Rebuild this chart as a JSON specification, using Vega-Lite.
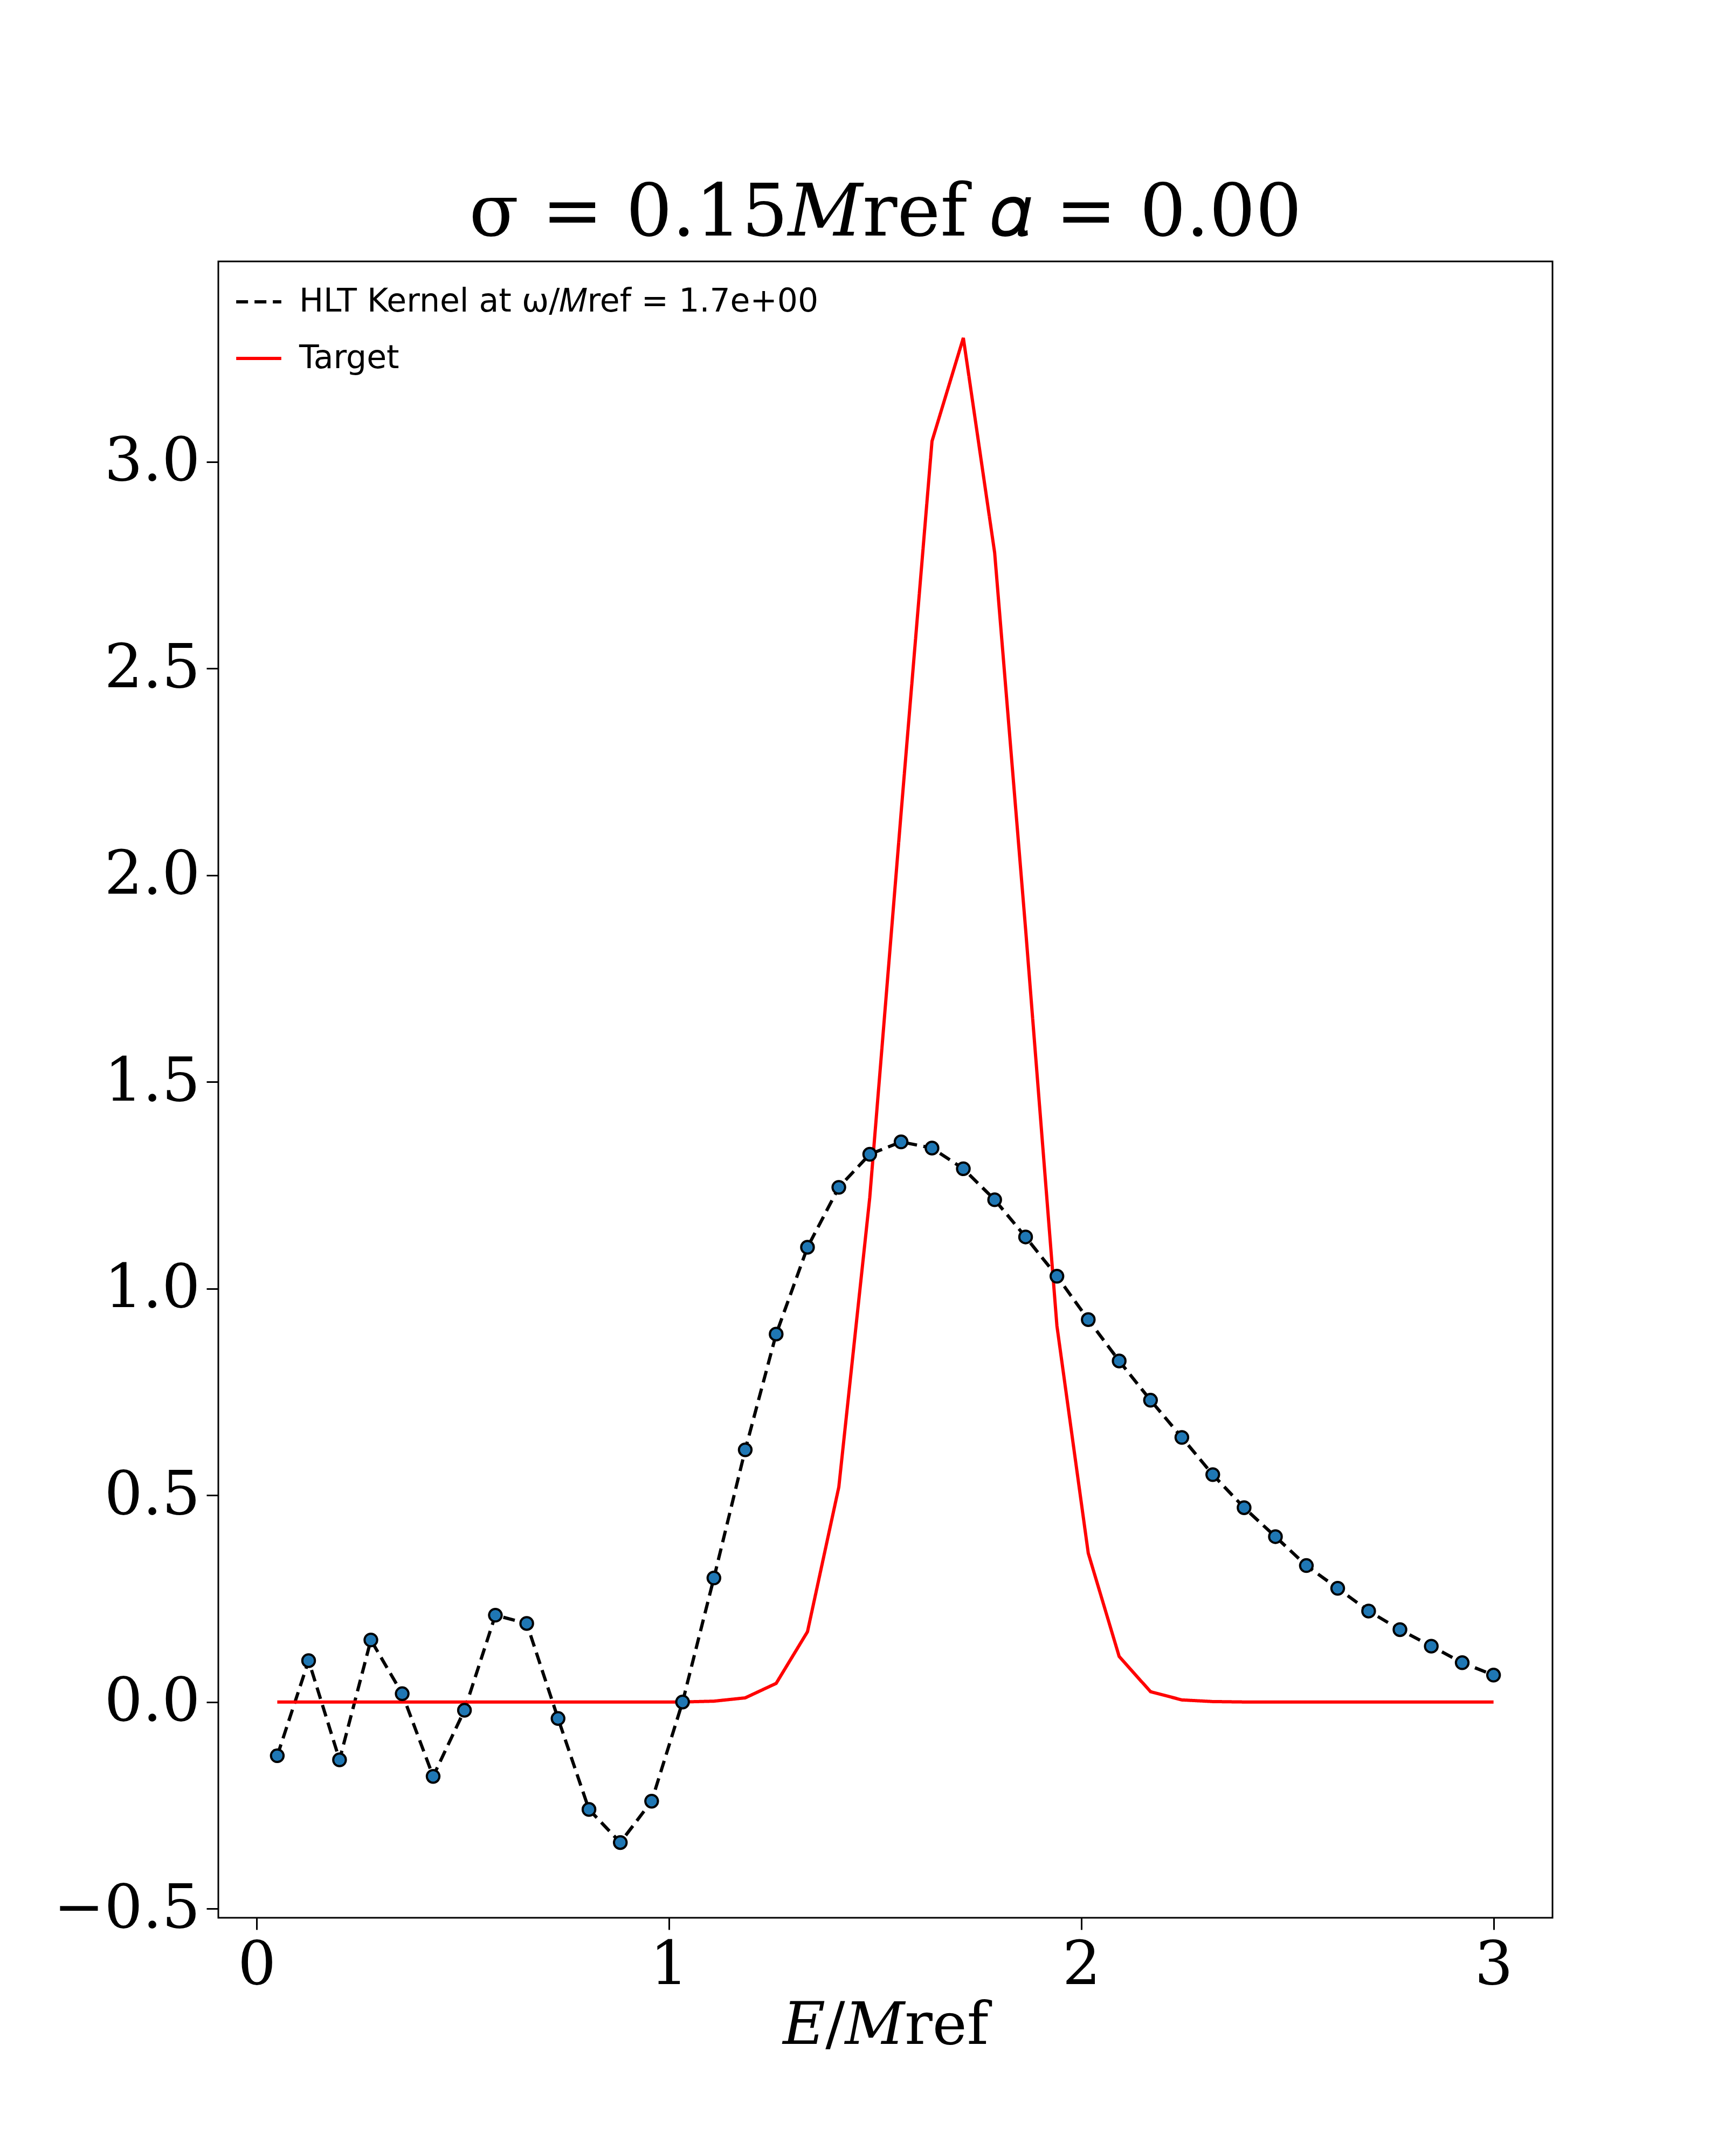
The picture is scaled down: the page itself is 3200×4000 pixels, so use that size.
{
"$schema":"https://vega.github.io/schema/vega-lite/v6.json",
"autosize":"none",
"padding":{"left":405,"top":485,"right":320,"bottom":442},
"width":2475,"height":3073,
"background":"white",
"datasets":{"k":[
{"x":0.050,"kernel":-0.13,"target":0.0},
{"x":0.126,"kernel":0.10,"target":0.0},
{"x":0.201,"kernel":-0.14,"target":0.0},
{"x":0.277,"kernel":0.15,"target":0.0},
{"x":0.353,"kernel":0.02,"target":0.0},
{"x":0.428,"kernel":-0.18,"target":0.0},
{"x":0.504,"kernel":-0.02,"target":0.0},
{"x":0.579,"kernel":0.21,"target":0.0},
{"x":0.655,"kernel":0.19,"target":0.0},
{"x":0.731,"kernel":-0.04,"target":0.0},
{"x":0.806,"kernel":-0.26,"target":0.0},
{"x":0.882,"kernel":-0.34,"target":0.0},
{"x":0.958,"kernel":-0.24,"target":0.0},
{"x":1.033,"kernel":0.0,"target":0.0},
{"x":1.109,"kernel":0.30,"target":0.002},
{"x":1.185,"kernel":0.61,"target":0.01},
{"x":1.260,"kernel":0.89,"target":0.045},
{"x":1.336,"kernel":1.10,"target":0.17},
{"x":1.412,"kernel":1.245,"target":0.52},
{"x":1.487,"kernel":1.325,"target":1.22},
{"x":1.563,"kernel":1.355,"target":2.15},
{"x":1.638,"kernel":1.34,"target":3.05},
{"x":1.714,"kernel":1.29,"target":3.30},
{"x":1.790,"kernel":1.215,"target":2.78},
{"x":1.865,"kernel":1.125,"target":1.87},
{"x":1.941,"kernel":1.03,"target":0.91},
{"x":2.017,"kernel":0.925,"target":0.36},
{"x":2.092,"kernel":0.825,"target":0.11},
{"x":2.168,"kernel":0.73,"target":0.025},
{"x":2.244,"kernel":0.64,"target":0.005},
{"x":2.319,"kernel":0.55,"target":0.001},
{"x":2.395,"kernel":0.47,"target":0.0},
{"x":2.471,"kernel":0.40,"target":0.0},
{"x":2.546,"kernel":0.33,"target":0.0},
{"x":2.622,"kernel":0.275,"target":0.0},
{"x":2.697,"kernel":0.22,"target":0.0},
{"x":2.773,"kernel":0.175,"target":0.0},
{"x":2.849,"kernel":0.135,"target":0.0},
{"x":2.924,"kernel":0.095,"target":0.0},
{"x":3.000,"kernel":0.065,"target":0.0}
]},
"data":{"name":"k"},
"title":{"text":"σ = 0.15𝑀ref      𝛼 = 0.00","font":"DejaVu Serif","fontSize":135,"fontWeight":"normal","color":"black","offset":20},
"config":{"view":{"stroke":"black","strokeWidth":3},
"axis":{"labelFont":"DejaVu Serif","labelFontSize":112,"titleFont":"DejaVu Serif","titleFontSize":108,"titleFontWeight":"normal","grid":false,"domain":false,"tickColor":"black","tickSize":22,"tickWidth":3,"labelColor":"black","titleColor":"black","labelPadding":12,"labelLimit":1000}},
"transform":[{"fold":["kernel","target"],"as":["series","y"]}],
"encoding":{
"x":{"field":"x","type":"quantitative","scale":{"domain":[-0.093,3.143],"nice":false,"zero":false},"axis":{"values":[0,1,2,3],"format":"d","title":"𝐸/𝑀ref"}},
"y":{"field":"y","type":"quantitative","scale":{"domain":[-0.522,3.485],"nice":false,"zero":false},"axis":{"values":[-0.5,0,0.5,1,1.5,2,2.5,3],"labelExpr":"replace(format(datum.value,'.1f'),'-','−')","title":null}}
},
"layer":[
{"mark":{"type":"line","strokeWidth":6},
"encoding":{
"color":{"field":"series","type":"nominal","scale":{"domain":["kernel","target"],"range":["black","red"]},
"legend":{"orient":"top-left","title":null,"labelExpr":"datum.value=='kernel' ? 'HLT Kernel at ω/𝑀ref = 1.7e+00' : 'Target'","labelFont":"DejaVu Sans","labelFontSize":60,"labelLimit":2000,"symbolType":"stroke","symbolSize":7000,"symbolStrokeWidth":6,"rowPadding":30,"offset":30,"labelOffset":30}},
"strokeDash":{"field":"series","type":"nominal","scale":{"domain":["kernel","target"],"range":[[22,12],[1,0]]},"legend":null}}},
{"transform":[{"filter":"datum.series=='kernel'"}],
"mark":{"type":"point","filled":true,"fill":"#1f77b4","stroke":"black","strokeWidth":4,"size":550,"opacity":1}}
]
}
